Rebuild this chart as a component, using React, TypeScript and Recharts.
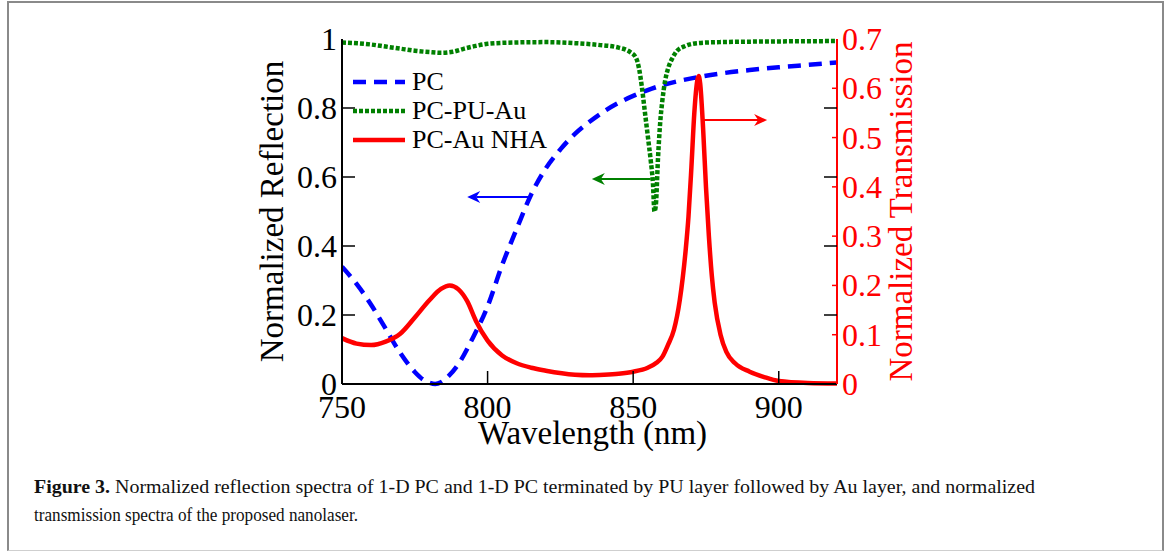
import React from "react";
import { ComposedChart, Line, XAxis, YAxis, ReferenceLine, Legend } from "recharts";

// axis ticks
const WAVELENGTH_TICKS = [750, 800, 850, 900];
const TOP_TICKS = [800, 850, 900];
const REFL_TICKS = [0, 0.2, 0.4, 0.6, 0.8, 1];
const TRANS_TICKS = [0, 0.1, 0.2, 0.3, 0.4, 0.5, 0.6, 0.7];

// PC reflection
const pcWavelength = [
   750, 755, 760, 765, 770, 775, 778, 780, 782, 784, 786, 790, 795, 800, 805,
   810, 815, 820, 825, 830, 835, 840, 845, 850, 855, 860, 865, 870, 880, 890,
   900, 910, 920,
];
const pcReflection = [
   0.34, 0.29, 0.23, 0.16, 0.09, 0.035, 0.012, 0.004, 0.0, 0.005, 0.018, 0.058,
   0.135, 0.225, 0.345, 0.45, 0.55, 0.625, 0.68, 0.725, 0.76, 0.79, 0.815, 0.835,
   0.852, 0.866, 0.877, 0.886, 0.9, 0.91, 0.918, 0.925, 0.932,
];

// PC-PU-Au reflection
const puWavelength = [
   750, 760, 765, 770, 775, 780, 784, 788, 792, 796, 800, 810, 820, 830, 838,
   845, 849, 851, 852, 853, 854, 855, 856, 856.8, 857.3, 857.8, 858.5, 859.3,
   860, 861, 862, 863.5, 865, 868, 872, 880, 900, 920,
];
const puReflection = [
   0.99, 0.984, 0.978, 0.972, 0.966, 0.962, 0.96, 0.963, 0.972, 0.98, 0.986,
   0.99, 0.991, 0.988, 0.983, 0.975, 0.962, 0.945, 0.915, 0.86, 0.79, 0.72, 0.65,
   0.58, 0.5, 0.52, 0.65, 0.76, 0.82, 0.88, 0.915, 0.945, 0.965, 0.98, 0.988,
   0.991, 0.993, 0.994,
];

// PC-Au NHA transmission
const nhaWavelength = [
   750, 755, 760, 765, 770, 775, 780, 784, 787, 790, 793, 796, 800, 805, 810,
   815, 820, 830, 835, 840, 845, 850, 855, 858, 860, 862, 864, 866, 868, 869,
   870, 871, 872, 872.5, 873, 874, 875, 876, 877, 878, 880, 882, 885, 890, 895,
   900, 910, 920,
];
const nhaTransmission = [
   0.093, 0.082, 0.079, 0.086, 0.102, 0.135, 0.17, 0.193, 0.2, 0.192, 0.168,
   0.128, 0.088, 0.058, 0.042, 0.033, 0.027, 0.019, 0.018, 0.019, 0.021, 0.025,
   0.033, 0.043, 0.055, 0.08, 0.11, 0.17, 0.27, 0.34, 0.44, 0.55, 0.615, 0.625,
   0.61, 0.52, 0.4, 0.3, 0.22, 0.165, 0.1, 0.065, 0.042, 0.025, 0.014, 0.006,
   0.002, 0.001,
];

const pcData = pcWavelength.map((wl, i) => ({ wl, v: pcReflection[i] }));
const puData = puWavelength.map((wl, i) => ({ wl, v: puReflection[i] }));
const nhaData = nhaWavelength.map((wl, i) => ({ wl, v: nhaTransmission[i] }));

const SERIES = [
   { name: "PC", color: "#0000ff", dash: "13 8" },
   { name: "PC-PU-Au", color: "#008000", dash: "4 2" },
   { name: "PC-Au NHA", color: "#ff0000", dash: undefined },
];

// arrows pointing at the axis each curve belongs to
const ARROWS = [
   { axis: "refl", color: "#0000ff", from: { x: 814.6, y: 0.542 }, to: { x: 793, y: 0.542 } },
   { axis: "refl", color: "#008000", from: { x: 856, y: 0.594 }, to: { x: 835.8, y: 0.594 } },
   { axis: "refl", color: "#ff0000", from: { x: 874, y: 0.765 }, to: { x: 896, y: 0.765 } },
];

const FONT = "'Liberation Serif', 'Times New Roman', serif";
const TICK_GAP = 5;

const LeftTick = (props: any) => {
   const { x, y, payload } = props;
   const v = payload.value;
   const axisX = x + TICK_GAP;
   return (
      <g>
         {v > 0 && v < 1 && (
            <line x1={axisX} x2={axisX + 13} y1={y} y2={y} stroke="#000" strokeWidth={1.5} />
         )}
         <text x={x} y={y} dy={11} textAnchor="end" fontSize={32} fontFamily={FONT} fill="#000">
            {String(v)}
         </text>
      </g>
   );
};

const RightTick = (props: any) => {
   const { x, y, payload } = props;
   const v = payload.value;
   const axisX = x - TICK_GAP;
   const isTrans = TRANS_TICKS.includes(v);
   if (!isTrans) {
      // mirrored reflection ticks
      return <line x1={axisX} x2={axisX - 13} y1={y} y2={y} stroke="#000" strokeWidth={1.5} />;
   }
   return (
      <g>
         {v > 0 && v < 0.7 && (
            <line x1={axisX} x2={axisX - 5} y1={y} y2={y} stroke="#ff0000" strokeWidth={1.5} />
         )}
         <text x={x} y={y} dy={11} textAnchor="start" fontSize={32} fontFamily={FONT} fill="#ff0000">
            {String(v)}
         </text>
      </g>
   );
};

const BottomTick = (props: any) => {
   const { x, y, payload } = props;
   const v = payload.value;
   return (
      <g>
         {v > 750 && <line x1={x} x2={x} y1={y} y2={y - 13} stroke="#000" strokeWidth={1.5} />}
         <text x={x} y={y + 34} textAnchor="middle" fontSize={32} fontFamily={FONT} fill="#000">
            {String(v)}
         </text>
      </g>
   );
};

const TopTick = (props: any) => {
   const { x, y } = props;
   return <line x1={x} x2={x} y1={y} y2={y + 13} stroke="#000" strokeWidth={1.5} />;
};

const Arrow = (props: any) => {
   const { x1, y1, x2, y2, stroke } = props;
   const ang = Math.atan2(y2 - y1, x2 - x1);
   const ux = Math.cos(ang);
   const uy = Math.sin(ang);
   const len = 13;
   const half = 6;
   const notch = 4;
   const bx = x2 - ux * len;
   const by = y2 - uy * len;
   const nx = x2 - ux * (len - notch);
   const ny = y2 - uy * (len - notch);
   const pts = [
      [x2, y2],
      [bx - uy * half, by + ux * half],
      [nx, ny],
      [bx + uy * half, by - ux * half],
   ]
      .map((p) => p.join(","))
      .join(" ");
   return (
      <g>
         <line x1={x1} y1={y1} x2={nx} y2={ny} stroke={stroke} strokeWidth={2} />
         <polygon points={pts} fill={stroke} />
      </g>
   );
};

const LegendBox = () => (
   <svg width={230} height={100}>
      {SERIES.map((s, i) => {
         const cy = 18 + i * 29;
         return (
            <g key={s.name}>
               <line
                  x1={3}
                  x2={55}
                  y1={cy}
                  y2={cy}
                  stroke={s.color}
                  strokeWidth={4.5}
                  strokeDasharray={s.dash}
               />
               <text x={62} y={cy + 8} fontSize={26} fontFamily={FONT} fill="#000">
                  {s.name}
               </text>
            </g>
         );
      })}
   </svg>
);

const App = () => {
   return (
      <div style={{ position: "absolute", left: 0, top: 0, width: 1176, height: 551, overflow: "hidden", background: "#fff" }}>
         <div
            style={{
               position: "absolute",
               left: 7,
               top: 1,
               width: 1157,
               height: 550,
               boxSizing: "border-box",
               border: "2px solid #8a8a8a",
               borderBottom: "1px solid #cfcfcf",
            }}
         />
         <div style={{ position: "absolute", left: 0, top: 0 }}>
            <ComposedChart
               width={1176}
               height={470}
               margin={{ top: 39, right: 259, bottom: 26, left: 262 }}
            >
               <XAxis
                  xAxisId={0}
                  dataKey="wl"
                  type="number"
                  domain={[750, 920]}
                  allowDataOverflow
                  ticks={WAVELENGTH_TICKS}
                  interval={0}
                  height={60}
                  tickSize={0}
                  tickMargin={0}
                  axisLine={{ stroke: "#000", strokeWidth: 2 }}
                  tickLine={false}
                  tick={<BottomTick />}
                  label={{
                     content: (p: any) => {
                        const vb = p.viewBox;
                        return (
                           <text
                              x={vb.x + vb.width / 2 + 3}
                              y={vb.y + 60}
                              textAnchor="middle"
                              fontSize={33}
                              fontFamily={FONT}
                              fill="#000"
                           >
                              Wavelength (nm)
                           </text>
                        );
                     },
                  }}
               />
               <XAxis
                  xAxisId="top"
                  orientation="top"
                  type="number"
                  domain={[750, 920]}
                  allowDataOverflow
                  ticks={TOP_TICKS}
                  interval={0}
                  height={0}
                  tickSize={0}
                  tickMargin={0}
                  axisLine={{ stroke: "#000", strokeWidth: 2 }}
                  tickLine={false}
                  tick={<TopTick />}
               />
               <YAxis
                  yAxisId="refl"
                  orientation="left"
                  type="number"
                  domain={[0, 1]}
                  ticks={REFL_TICKS}
                  interval={0}
                  width={80}
                  tickSize={0}
                  tickMargin={TICK_GAP}
                  axisLine={{ stroke: "#000", strokeWidth: 2 }}
                  tickLine={false}
                  tick={<LeftTick />}
                  label={{
                     content: (p: any) => {
                        const vb = p.viewBox;
                        const cx = vb.x + 21;
                        const cy = vb.y + vb.height / 2;
                        return (
                           <text
                              x={cx}
                              y={cy}
                              transform={`rotate(-90 ${cx} ${cy})`}
                              textAnchor="middle"
                              fontSize={33}
                              fontFamily={FONT}
                              fill="#000"
                           >
                              Normalized Reflection
                           </text>
                        );
                     },
                  }}
               />
               <YAxis
                  yAxisId="trans"
                  orientation="right"
                  type="number"
                  domain={[0, 0.7]}
                  ticks={[...TRANS_TICKS, ...REFL_TICKS.filter((v) => v > 0 && v < 1).map((v) => v * 0.7)]}
                  interval={0}
                  width={80}
                  tickSize={0}
                  tickMargin={TICK_GAP}
                  axisLine={{ stroke: "#ff0000", strokeWidth: 2 }}
                  tickLine={false}
                  tick={<RightTick />}
                  label={{
                     content: (p: any) => {
                        const vb = p.viewBox;
                        const cx = vb.x + 75;
                        const cy = vb.y + vb.height / 2;
                        return (
                           <text
                              x={cx}
                              y={cy}
                              transform={`rotate(-90 ${cx} ${cy})`}
                              textAnchor="middle"
                              fontSize={33}
                              fontFamily={FONT}
                              fill="#ff0000"
                           >
                              Normalized Transmission
                           </text>
                        );
                     },
                  }}
               />
               <Legend
                  layout="vertical"
                  align="center"
                  verticalAlign="middle"
                  content={() => <LegendBox />}
                  wrapperStyle={{ position: "absolute", left: 350, top: 64, width: 230 }}
               />
               <Line
                  yAxisId="refl"
                  data={pcData}
                  dataKey="v"
                  name="PC"
                  type="monotone"
                  stroke={SERIES[0].color}
                  strokeWidth={4.5}
                  strokeDasharray={SERIES[0].dash}
                  dot={false}
                  isAnimationActive={false}
               />
               <Line
                  yAxisId="refl"
                  data={puData}
                  dataKey="v"
                  name="PC-PU-Au"
                  type="monotone"
                  stroke={SERIES[1].color}
                  strokeWidth={4.5}
                  strokeDasharray={SERIES[1].dash}
                  dot={false}
                  isAnimationActive={false}
               />
               <Line
                  yAxisId="trans"
                  data={nhaData}
                  dataKey="v"
                  name="PC-Au NHA"
                  type="monotone"
                  stroke={SERIES[2].color}
                  strokeWidth={4.5}
                  dot={false}
                  isAnimationActive={false}
               />
               {ARROWS.map((a, i) => (
                  <ReferenceLine
                     key={i}
                     yAxisId={a.axis}
                     segment={[a.from, a.to]}
                     stroke={a.color}
                     shape={Arrow}
                  />
               ))}
            </ComposedChart>
         </div>
         <svg style={{ position: "absolute", left: 0, top: 470 }} width={1176} height={70}>
            <text x={34} y={23} fontSize={19} fontFamily={FONT} fill="#111" textLength={1001} lengthAdjust="spacingAndGlyphs">
               <tspan fontWeight="bold">Figure 3.</tspan> Normalized reflection spectra of 1-D PC and 1-D PC
               terminated by PU layer followed by Au layer, and normalized
            </text>
            <text x={34} y={51} fontSize={19} fontFamily={FONT} fill="#111" textLength={324} lengthAdjust="spacingAndGlyphs">
               transmission spectra of the proposed nanolaser.
            </text>
         </svg>
      </div>
   );
};

export default App;
